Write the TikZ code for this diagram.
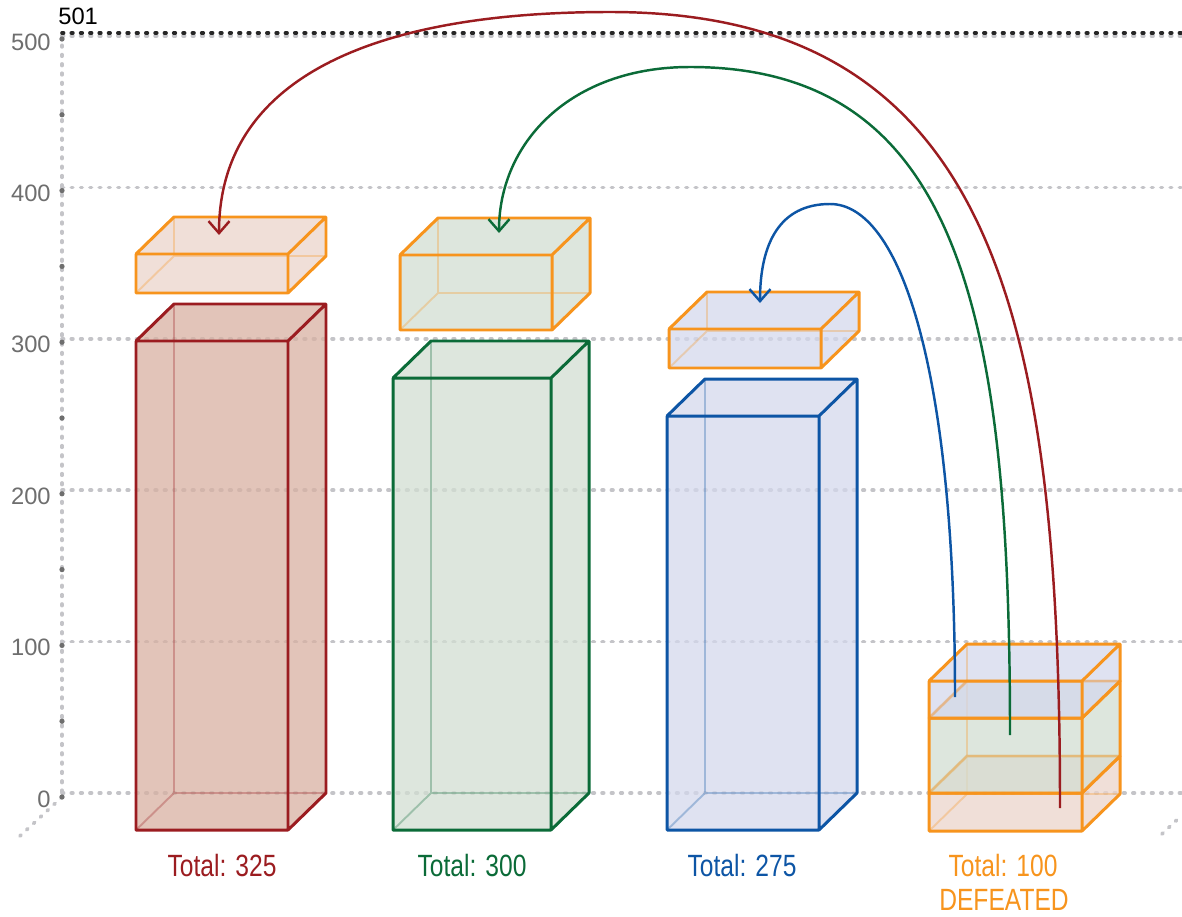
\documentclass[tikz,border=0pt]{standalone}
\usepackage{fontspec}
\setmainfont{Liberation Sans}
\newfontfamily\condfont[FakeStretch=0.8]{Liberation Sans}
\usetikzlibrary{positioning,arrows.meta}

\definecolor{winred}{HTML}{9B1C20}
\definecolor{wingreen}{HTML}{0B6B38}
\definecolor{winblue}{HTML}{0D55A5}
\definecolor{lossorange}{HTML}{F7941D}
\definecolor{redfill}{HTML}{D8B0A2}
\definecolor{redlight}{HTML}{EBD4CB}
\definecolor{greenfill}{HTML}{D2DED2}
\definecolor{bluefill}{HTML}{D4D8EC}
\definecolor{gridgray}{HTML}{C4C4C8}
\definecolor{axisgray}{HTML}{6E6E6E}

% x, front top, front bottom, width, edge colour, fill colour
\newcommand{\drawbox}[6]{
  \fill[#6, fill opacity=0.75] (#1,#3) -- (#1,#2) -- ++(38,-37) -- ++(#4,0) -- ({#1+#4+38},{#3-37}) -- ({#1+#4},#3) -- cycle;
  \draw[#5, draw opacity=0.3, line width=1.1pt] ({#1+38},{#2-37}) -- ({#1+38},{#3-37}) -- ({#1+#4+38},{#3-37}) ({#1+38},{#3-37}) -- (#1,#3);
  \draw[#5, line width=1.7pt, line join=round] (#1,#2) rectangle ({#1+#4},#3) (#1,#2) -- ++(38,-37) -- ++(#4,0) -- ({#1+#4+38},{#3-37}) -- ({#1+#4},#3) ({#1+#4},#2) -- ++(38,-37);
}

\begin{document}
\begin{tikzpicture}[x=0.02cm, y=-0.02cm]
	\tikzstyle{grid} = [gridgray, line width=2.1pt, line cap=round, dash pattern=on 0.9pt off 4.4pt]
	\tikzstyle{tick} = [axisgray, font=\fontsize{13.5}{15}\selectfont, anchor=east, inner sep=0pt]
	\tikzstyle{total} = [font=\condfont\fontsize{17.5}{19}\selectfont, anchor=base, inner sep=0pt]
	\tikzstyle{move} = [line width=1.4pt, -{Straight Barb[length=2.4mm,width=4.2mm]}]
	\useasboundingbox (0,0) rectangle (1182,916);

	% grid and axis
	\foreach \v in {0,100,...,500} {
		\draw[grid] (62,{793-1.514*\v}) -- (1182,{793-1.514*\v});
		\node[tick] (t\v) at (51,{799-1.514*\v}) {\v};
	}
	\draw[grid] (62,36) -- (62,797);
	\draw[grid] (62,797) -- (20,836);
	\draw[grid] (1162,834) -- (1182,815);
	\foreach \k in {0,...,10} \fill[axisgray] (62,{797-75.8*\k}) circle (1.5pt);
	\draw[grid, black!85] (62,33) -- (1182,33);
	\node[anchor=west, inner sep=0pt, font=\fontsize{13.5}{15}\selectfont] (max) at (58,16) {501};

	% bars and what they lost
	\drawbox{136}{341}{830}{152}{winred}{redfill}
	\drawbox{136}{254}{293}{152}{lossorange}{redlight}
	\drawbox{393}{378}{830}{158}{wingreen}{greenfill}
	\drawbox{400}{255}{330}{152}{lossorange}{greenfill}
	\drawbox{667}{416}{830}{152}{winblue}{bluefill}
	\drawbox{669}{329}{368}{152}{lossorange}{bluefill}
	% defeated stack
	\drawbox{929}{793}{831}{153}{lossorange}{redlight}
	\drawbox{929}{718}{793}{153}{lossorange}{greenfill}
	\drawbox{929}{681}{718}{153}{lossorange}{bluefill}

	\coordinate (redsrc) at (1060,808);
	\coordinate (redtop) at (610,12);
	\coordinate (redtgt) at (219,235);
	\coordinate (greensrc) at (1010,735);
	\coordinate (greentop) at (690,67);
	\coordinate (greentgt) at (499,233);
	\coordinate (bluesrc) at (955,697);
	\coordinate (bluetop) at (830,204);
	\coordinate (bluetgt) at (760,303);
	\draw[move, winred] (redsrc) .. controls +(0,-500) and +(380,0) .. (redtop) .. controls +(-250,0) and +(0,-150) .. (redtgt);
	\draw[move, wingreen] (greensrc) .. controls +(0,-420) and +(270,0) .. (greentop) .. controls +(-120,0) and +(0,-90) .. (greentgt);
	\draw[move, winblue] (bluesrc) .. controls +(0,-330) and +(70,0) .. (bluetop) .. controls +(-50,0) and +(0,-60) .. (bluetgt);

	\node[total, winred] (redtotal) at (222,876) {Total: 325};
	\node[total, wingreen] (greentotal) at (472,876) {Total: 300};
	\node[total, winblue] (bluetotal) at (742,876) {Total: 275};
	\node[total, lossorange] (losstotal) at (1003,876) {Total: 100};
	\node[total, lossorange] (defeated) at (1004,910) {DEFEATED};
\end{tikzpicture}
\end{document}
